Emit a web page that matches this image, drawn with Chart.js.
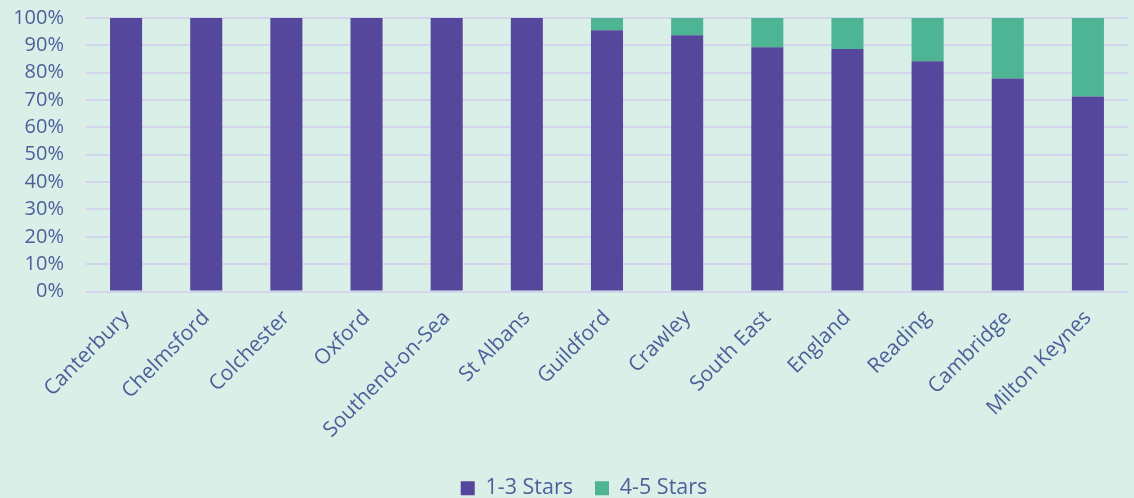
<!DOCTYPE html>
<html>
<head>
<meta charset="utf-8">
<script src="https://cdn.jsdelivr.net/npm/chart.js@4"></script>
<style>
  html, body { margin: 0; padding: 0; background: #dbefe9; }
  #wrap { width: 1134px; height: 498px; }
</style>
</head>
<body>
<div id="wrap"><canvas id="chart" width="1134" height="498"></canvas></div>
<script>
const categories = ['Canterbury', 'Chelmsford', 'Colchester', 'Oxford', 'Southend-on-Sea', 'St Albans',
  'Guildford', 'Crawley', 'South East', 'England', 'Reading', 'Cambridge', 'Milton Keynes'];
const stars13 = [100, 100, 100, 100, 100, 100, 95.5, 93.7, 89.3, 88.7, 84.2, 77.9, 71.3];
const stars45 = [0, 0, 0, 0, 0, 0, 4.5, 6.3, 10.7, 11.3, 15.8, 22.1, 28.7];
const yTicks = [0, 10, 20, 30, 40, 50, 60, 70, 80, 90, 100];

const textColor = '#4d5f99';
Chart.defaults.font.family = "'Open Sans', sans-serif";
Chart.defaults.color = textColor;

// legend in the original sits a bit right of centre
const shiftLegend = {
  id: 'shiftLegend',
  afterLayout(chart) {
    chart.legend.left += 14;
    chart.legend.right += 14;
  }
};

new Chart(document.getElementById('chart'), {
  type: 'bar',
  data: {
    labels: categories,
    datasets: [
      { label: '1-3 Stars', data: stars13, backgroundColor: '#55489c' },
      { label: '4-5 Stars', data: stars45, backgroundColor: '#4db594' }
    ]
  },
  options: {
    responsive: false,
    animation: false,
    layout: { padding: { left: 12, right: 6, top: 18, bottom: -11 } },
    datasets: { bar: { categoryPercentage: 1, barPercentage: 0.4 } },
    plugins: {
      tooltip: { enabled: false },
      legend: {
        position: 'bottom',
        labels: { boxWidth: 14, boxHeight: 14, font: { size: 21.5 }, padding: 22 }
      }
    },
    scales: {
      x: {
        stacked: true,
        grid: { display: false },
        border: { display: false },
        ticks: { font: { size: 21 }, autoSkip: false, maxRotation: 45, minRotation: 45, padding: 6 },
        afterFit: (s) => { s.paddingLeft = 0; s.paddingRight = 0; s.height = 164; }
      },
      y: {
        stacked: true,
        min: 0, max: 100,
        afterBuildTicks: (axis) => { axis.ticks = yTicks.map(v => ({ value: v })); },
        afterFit: (s) => { s.paddingTop = 0; s.paddingBottom = 0; s.width = 74; },
        grid: { color: '#d3d6ea', lineWidth: 2, drawTicks: false },
        border: { display: false },
        ticks: { font: { size: 20 }, autoSkip: false, padding: 22, callback: (v) => v + '%' }
      }
    }
  },
  plugins: [shiftLegend]
});
</script>
</body>
</html>
